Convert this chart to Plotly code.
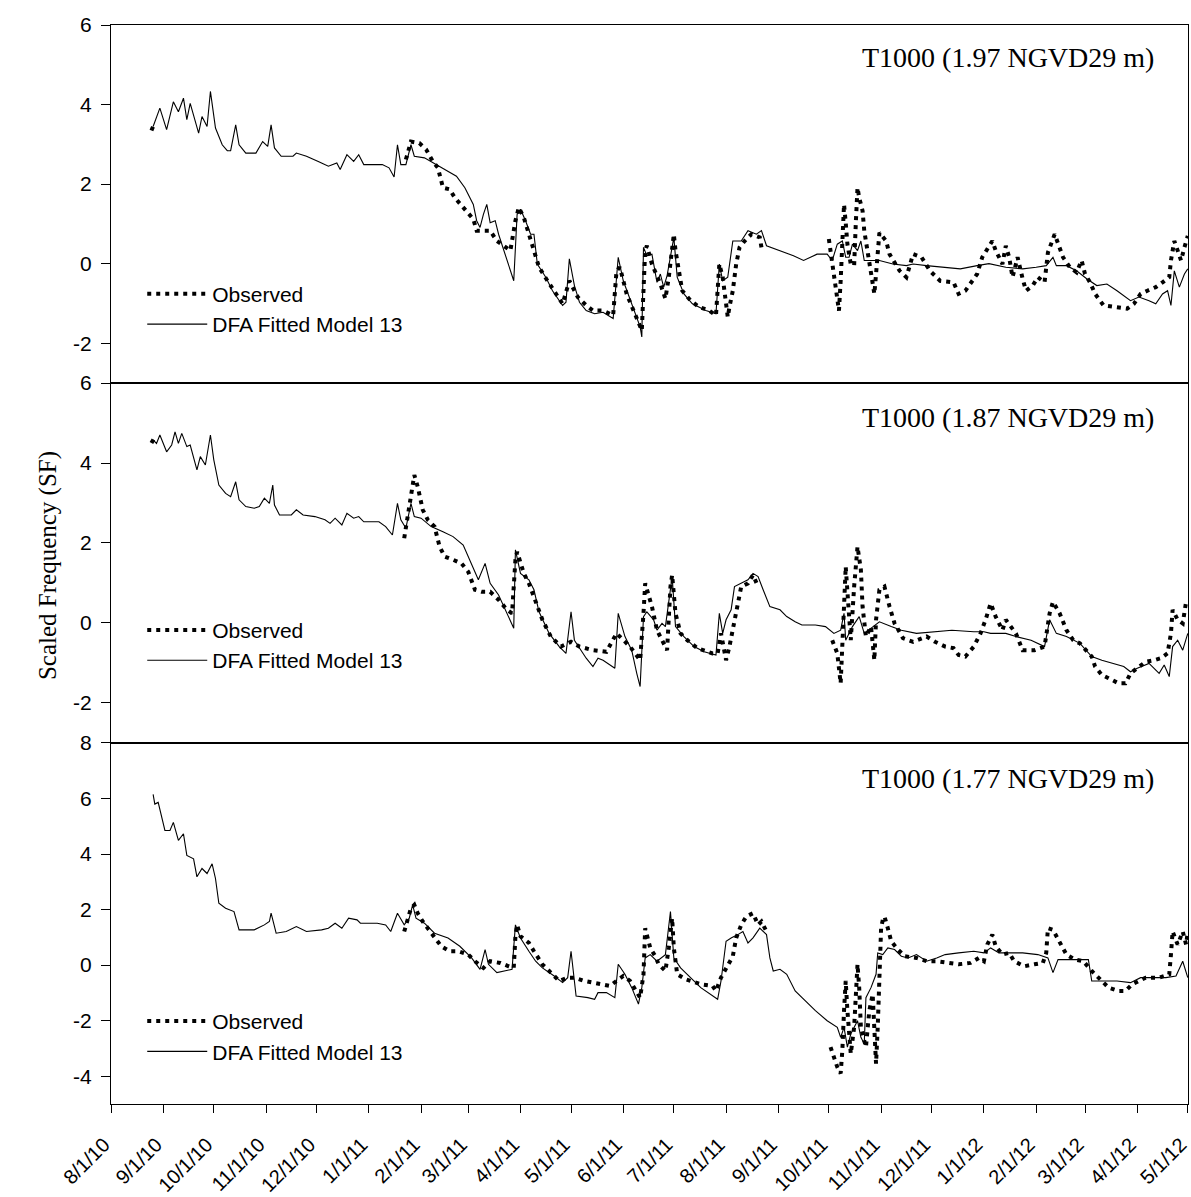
import pandas as pd
import plotly.graph_objects as go
from plotly.subplots import make_subplots

BASE_DATE = "2010-08-01"   # day 0 of the record

# ---------------- Panel 1: T1000 (1.97 NGVD29 m) ----------------
TOP_MODEL_DAYS = [25, 29, 33, 37, 40, 43, 45, 47, 52, 54,
                  57, 59, 62, 66, 69, 71, 74, 76, 80, 86,
                  90, 93, 95, 97, 101, 108, 110, 116, 123, 129,
                  134, 136, 140, 144, 147, 150, 161, 165, 168, 170,
                  172, 175, 178, 180, 186, 193, 200, 205, 210, 215,
                  217, 219, 221, 223, 225, 228, 230, 234, 239, 241,
                  243, 246, 249, 251, 253, 258, 262, 268, 270, 272,
                  275, 278, 282, 287, 292, 298, 301, 304, 309, 314,
                  315, 316, 318, 321, 324, 326, 328, 330, 334, 336,
                  340, 345, 353, 359, 361, 363, 366, 368, 369, 374,
                  378, 383, 386, 389, 397, 405, 411, 419, 425, 428,
                  431, 434, 436, 438, 440, 443, 445, 447, 456, 464,
                  472, 476, 484, 494, 504, 514, 521, 531, 541, 549,
                  555, 559, 561, 567, 573, 579, 585, 591, 597, 605,
                  610, 616, 620, 624, 627, 629, 631, 634, 637, 639]
TOP_MODEL_VALS = [3.45, 3.91, 3.37, 4.07, 3.82, 4.16, 3.62, 4.03, 3.28, 3.70,
                  3.45, 4.33, 3.41, 2.99, 2.84, 2.84, 3.49, 2.99, 2.78, 2.78,
                  3.07, 2.95, 3.49, 2.91, 2.70, 2.70, 2.78, 2.70, 2.57, 2.45,
                  2.53, 2.37, 2.74, 2.57, 2.74, 2.49, 2.49, 2.41, 2.18, 2.99,
                  2.49, 2.49, 2.99, 2.70, 2.66, 2.49, 2.33, 2.20, 1.91, 1.49,
                  1.08, 0.91, 1.24, 1.49, 1.03, 1.08, 0.74, 0.24, -0.43, 1.24,
                  1.37, 1.08, 0.74, 0.74, -0.01, -0.34, -0.68, -1.05, -0.97, 0.12,
                  -0.55, -0.97, -1.18, -1.26, -1.22, -1.38, 0.16, -0.43, -1.01, -1.59,
                  -1.84, 0.41, 0.20, 0.24, -0.47, -0.26, -0.59, -0.30, 0.66, -0.34,
                  -0.76, -1.01, -1.18, -1.26, -0.01, -0.43, -0.34, 0.33, 0.57, 0.57,
                  0.83, 0.74, 0.83, 0.45, 0.33, 0.20, 0.08, 0.24, 0.24, 0.08,
                  0.49, 0.57, 0.16, 0.16, 0.49, 0.33, 0.57, 0.08, 0.08, -0.01,
                  -0.05, -0.01, -0.05, -0.09, -0.13, -0.05, 0.00, -0.09, -0.13, -0.09,
                  -0.05, 0.16, -0.05, -0.05, -0.18, -0.38, -0.55, -0.51, -0.68, -0.93,
                  -0.84, -0.93, -1.01, -0.76, -0.68, -1.05, -0.18, -0.59, -0.26, -0.13]

TOP_OBS_DAYS = [24, 26, 27,
                175, 178, 183, 187, 191, 194, 197, 201, 204, 209,
                215, 217, 220, 225, 229, 234, 237, 240, 242, 245,
                250, 254, 259, 263, 268, 272, 277, 282, 286, 292,
                298, 300, 302, 306, 312, 315, 317, 318, 321, 326,
                329, 331, 334, 335, 339, 344, 349, 355, 359, 361,
                363, 366, 367, 369, 371, 373, 376, 380, 385, 386, 387,
                426, 428, 430, 432, 433, 434, 435, 436, 437, 439,
                441, 442, 443, 444, 446, 447, 448, 449, 451, 453,
                454, 455, 456, 460, 462, 468, 472, 476, 481, 486,
                492, 500, 503, 507, 511, 514, 517, 523, 525, 529,
                531, 533, 535, 538, 541, 543, 547, 550, 554, 556,
                560, 563, 565, 569, 573, 576, 578, 581, 584, 589,
                595, 603, 607, 611, 615, 620, 624, 628, 629, 630,
                631, 633, 635, 637, 639]
TOP_OBS_VALS = [3.35, 3.55, None,
                2.62, 3.07, 3.03, 2.87, 2.57, 2.41, 1.91, 1.87, 1.66, 1.41,
                1.12, 0.83, 0.83, 0.83, 0.57, 0.41, 0.33, 1.08, 1.41, 1.16,
                0.49, -0.09, -0.43, -0.68, -1.01, -0.43, -0.84, -1.05, -1.18, -1.18,
                -1.30, -0.18, -0.09, -0.76, -1.34, -1.68, 0.33, 0.45, -0.01, -0.51,
                -0.88, -0.34, 0.74, 0.33, -0.68, -0.93, -1.09, -1.18, -1.30, -0.01,
                -0.34, -1.34, -1.09, -0.68, -0.01, 0.41, 0.57, 0.74, 0.66, 0.41, None,
                0.62, 0.00, -0.68, -1.18, -0.43, 0.74, 1.49, 1.03, 0.49, -0.01,
                -0.05, 1.03, 1.91, 1.66, 1.33, 0.83, 0.57, 0.24, -0.30, -0.76,
                -0.26, 0.33, 0.78, 0.57, 0.24, -0.18, -0.34, 0.24, 0.16, -0.18,
                -0.43, -0.47, -0.76, -0.68, -0.43, -0.26, 0.16, 0.57, 0.33, -0.01,
                0.45, 0.16, -0.34, 0.16, -0.38, -0.68, -0.55, -0.34, -0.47, 0.28,
                0.74, 0.41, 0.16, -0.09, -0.22, 0.08, -0.26, -0.47, -0.76, -1.05,
                -1.09, -1.13, -1.01, -0.76, -0.68, -0.59, -0.47, -0.34, 0.08, 0.33,
                0.57, 0.33, 0.08, 0.41, 0.70]

# ---------------- Panel 2: T1000 (1.87 NGVD29 m) ----------------
MID_MODEL_DAYS = [25, 27, 29, 33, 36, 38, 40, 42, 45, 47,
                  51, 53, 56, 59, 61, 64, 68, 71, 74, 76,
                  80, 85, 88, 91, 94, 96, 97, 100, 107, 110,
                  114, 121, 127, 130, 133, 137, 140, 144, 147, 150,
                  159, 163, 167, 170, 172, 175, 178, 180, 184, 190,
                  197, 203, 209, 214, 218, 222, 225, 230, 235, 239,
                  240, 243, 248, 251, 254, 260, 266, 270, 273, 275,
                  282, 286, 289, 292, 299, 301, 305, 309, 312, 314,
                  316, 318, 322, 324, 327, 329, 333, 335, 340, 346,
                  352, 359, 361, 363, 365, 368, 370, 374, 378, 381,
                  384, 387, 391, 397, 401, 406, 410, 418, 424, 429,
                  433, 435, 436, 440, 444, 447, 452, 456, 463, 469,
                  478, 490, 499, 512, 518, 522, 531, 537, 546, 554,
                  557, 561, 567, 575, 582, 588, 594, 601, 605, 609,
                  616, 622, 625, 628, 630, 633, 636, 639]
MID_MODEL_VALS = [4.58, 4.49, 4.70, 4.28, 4.45, 4.78, 4.49, 4.74, 4.41, 4.45,
                  3.83, 4.16, 3.95, 4.70, 4.08, 3.45, 3.24, 3.16, 3.53, 3.08,
                  2.91, 2.87, 2.91, 3.12, 2.99, 3.45, 2.95, 2.70, 2.70, 2.83,
                  2.70, 2.66, 2.58, 2.49, 2.62, 2.45, 2.74, 2.62, 2.66, 2.53,
                  2.53, 2.41, 2.20, 2.99, 2.58, 2.37, 2.99, 2.66, 2.62, 2.41,
                  2.28, 2.16, 1.95, 1.49, 1.08, 1.49, 0.99, 0.70, 0.24, -0.13,
                  1.83, 1.24, 1.08, 0.83, 0.28, -0.26, -0.59, -0.76, 0.28, -0.43,
                  -0.88, -1.09, -0.88, -0.93, -1.13, 0.24, -0.34, -0.68, -1.26, -1.59,
                  0.16, 0.28, 0.08, -0.18, -0.01, -0.09, 1.16, -0.09, -0.34, -0.59,
                  -0.72, -0.80, 0.24, -0.26, 0.08, 0.33, 0.91, 0.99, 1.08, 1.24,
                  1.16, 0.83, 0.41, 0.33, 0.16, 0.03, -0.05, -0.05, -0.09, -0.26,
                  -0.18, 0.24, -0.43, -0.09, 0.16, -0.26, -0.09, 0.03, -0.09, -0.18,
                  -0.26, -0.22, -0.18, -0.22, -0.22, -0.26, -0.26, -0.34, -0.43, -0.59,
                  0.08, -0.26, -0.34, -0.51, -0.84, -0.93, -1.01, -1.09, -1.22, -1.13,
                  -1.01, -1.26, -1.05, -1.34, -0.59, -0.43, -0.68, -0.26]

MID_OBS_DAYS = [24, 26, 27,
                174, 175, 178, 180, 182, 185, 188, 192, 195, 198,
                203, 208, 212, 216, 220, 225, 230, 235, 238, 240,
                241, 245, 248, 252, 256, 261, 267, 273, 278, 286,
                294, 300, 304, 308, 311, 314, 316, 317, 321, 324,
                327, 330, 332, 333, 335, 338, 342, 348, 357, 360,
                362, 365, 367, 369, 372, 374, 378, 381, 384, 385,
                428, 431, 433, 434, 435, 436, 437, 439, 441, 443,
                445, 446, 448, 451, 453, 454, 456, 459, 462, 465,
                470, 476, 484, 489, 495, 500, 503, 507, 512, 516,
                519, 522, 525, 529, 531, 534, 537, 541, 548, 554,
                557, 559, 563, 567, 571, 575, 582, 584, 588, 592,
                598, 602, 605, 609, 614, 619, 623, 627, 629, 630,
                633, 636, 638, 639]
MID_OBS_VALS = [4.50, 4.65, None,
                2.12, 2.41, 3.24, 3.70, 3.41, 2.83, 2.58, 2.41, 1.91, 1.66,
                1.58, 1.49, 1.28, 0.83, 0.78, 0.78, 0.58, 0.33, 0.24, 1.58,
                1.78, 1.24, 0.99, 0.53, 0.08, -0.34, -0.59, -0.47, -0.59, -0.68,
                -0.72, -0.26, -0.43, -0.59, -0.76, -0.93, 0.24, 0.99, 0.41, -0.18,
                -0.43, -0.68, 0.91, 1.20, 0.24, -0.26, -0.43, -0.63, -0.76, -0.76,
                -0.26, -0.93, -0.59, -0.18, 0.41, 0.91, 0.99, 1.20, 0.91, None,
                -0.43, -0.76, -1.51, -0.76, 0.41, 1.41, 0.74, -0.43, 0.91, 1.91,
                1.33, 0.41, -0.34, -0.09, -0.93, 0.08, 0.83, 0.91, 0.41, -0.01,
                -0.38, -0.47, -0.34, -0.47, -0.59, -0.63, -0.80, -0.84, -0.59, -0.26,
                0.08, 0.49, 0.16, -0.18, 0.08, -0.09, -0.26, -0.68, -0.68, -0.59,
                0.24, 0.53, 0.24, -0.18, -0.43, -0.51, -0.84, -1.09, -1.30, -1.38,
                -1.51, -1.51, -1.26, -1.13, -0.97, -0.93, -0.88, -0.76, -0.26, 0.33,
                0.08, -0.01, 0.53, 0.58]

# ---------------- Panel 3: T1000 (1.77 NGVD29 m) ----------------
BOT_MODEL_DAYS = [25, 26, 28, 32, 35, 37, 40, 43, 45, 49,
                  51, 54, 57, 60, 62, 64, 68, 73, 76, 85,
                  91, 94, 95, 98, 104, 110, 116, 125, 129, 133,
                  137, 141, 146, 148, 158, 163, 166, 170, 174, 177,
                  179, 181, 186, 192, 200, 207, 214, 219, 222, 224,
                  229, 233, 238, 240, 243, 248, 252, 256, 263, 268,
                  271, 273, 275, 276, 283, 287, 289, 294, 299, 301,
                  305, 309, 313, 315, 317, 320, 324, 329, 332, 334,
                  338, 344, 350, 360, 362, 365, 368, 372, 375, 378,
                  381, 385, 389, 391, 393, 397, 401, 406, 412, 418,
                  425, 431, 433, 435, 437, 439, 443, 445, 447, 448,
                  451, 454, 455, 458, 461, 465, 469, 473, 478, 484,
                  490, 495, 503, 512, 518, 522, 527, 533, 541, 550,
                  556, 559, 562, 569, 580, 582, 588, 597, 605, 611,
                  620, 626, 632, 636, 639]
BOT_MODEL_VALS = [6.15, 5.80, 5.86, 4.85, 4.85, 5.14, 4.49, 4.73, 3.95, 3.83,
                  3.18, 3.48, 3.30, 3.65, 3.12, 2.23, 2.05, 1.93, 1.27, 1.27,
                  1.45, 1.57, 1.87, 1.15, 1.21, 1.39, 1.21, 1.27, 1.33, 1.51,
                  1.33, 1.69, 1.63, 1.51, 1.51, 1.45, 1.21, 1.87, 1.45, 1.69,
                  2.17, 1.69, 1.51, 1.15, 0.98, 0.68, 0.26, -0.15, 0.56, 0.03,
                  -0.27, -0.21, -0.15, 1.45, 0.98, 0.50, 0.14, -0.10, -0.39, -0.63,
                  -0.45, 0.50, -0.45, -1.11, -1.17, -1.23, -0.99, -0.99, -1.17, 0.03,
                  -0.33, -0.81, -1.40, -0.81, 0.26, 0.38, 0.14, 0.38, 1.93, 0.26,
                  -0.10, -0.45, -0.81, -1.23, -0.57, 0.86, 0.98, 1.10, 1.21, 0.80,
                  0.98, 1.33, 1.10, 0.26, -0.21, -0.15, -0.33, -0.93, -1.29, -1.64,
                  -2.00, -2.24, -2.60, -2.24, -2.95, -2.48, -2.00, -2.60, -2.83, -1.17,
                  -0.81, -0.33, 0.44, 0.38, 0.62, 0.56, 0.32, 0.26, 0.38, 0.14,
                  0.26, 0.38, 0.44, 0.50, 0.44, 0.62, 0.44, 0.44, 0.44, 0.38,
                  0.26, -0.27, 0.20, 0.20, 0.20, -0.57, -0.57, -0.57, -0.63, -0.45,
                  -0.45, -0.45, -0.39, 0.14, -0.45]

BOT_OBS_DAYS = [174, 175, 178, 180, 182, 185, 189, 193, 196, 201,
                206, 212, 216, 221, 225, 231, 236, 239, 240, 241,
                243, 248, 251, 256, 261, 266, 271, 275, 281, 286,
                291, 296, 300, 304, 308, 312, 314, 316, 317, 320,
                323, 325, 329, 331, 333, 334, 336, 341, 346, 350,
                357, 359, 362, 365, 369, 371, 374, 377, 381, 384,
                386, 389, 390,
                427, 429, 431, 433, 434, 435, 436, 437, 438, 439,
                441, 442, 443, 444, 445, 448, 450, 452, 453, 454,
                455, 456, 457, 458, 459, 461, 463, 467, 471, 478,
                484, 490, 497, 503, 510, 515, 518, 520, 523, 525,
                529, 533, 536, 542, 548, 553, 555, 556, 559, 563,
                567, 572, 577, 582, 586, 592, 598, 602, 606, 614,
                622, 628, 629, 630, 633, 636, 638, 639]
BOT_OBS_VALS = [1.21, 1.45, 2.05, 2.17, 1.87, 1.57, 1.27, 0.92, 0.68, 0.50,
                0.50, 0.38, 0.14, -0.10, 0.14, 0.08, -0.04, -0.10, 1.04, 1.45,
                1.04, 0.80, 0.50, 0.03, -0.27, -0.57, -0.45, -0.45, -0.57, -0.63,
                -0.69, -0.75, -0.57, -0.39, -0.57, -0.93, -1.17, -0.33, 1.33, 0.62,
                0.32, 0.03, -0.21, 0.62, 1.69, 0.62, -0.33, -0.51, -0.63, -0.69,
                -0.75, -0.93, -0.45, -0.10, 0.32, 0.98, 1.45, 1.75, 1.87, 1.45,
                1.57, 1.21, None,
                -2.95, -3.31, -3.67, -3.90, -3.07, -1.64, -0.57, -1.64, -2.71, -3.19,
                -2.24, -0.93, 0.03, -0.81, -2.24, -2.95, -1.64, -1.05, -2.48, -3.55,
                -2.24, -0.10, 1.33, 1.63, 1.75, 1.33, 0.86, 0.56, 0.32, 0.26,
                0.14, 0.14, 0.08, 0.03, 0.08, 0.26, 0.14, 0.74, 1.10, 0.68,
                0.38, 0.44, 0.14, -0.04, 0.03, 0.08, 0.44, 1.33, 1.27, 0.86,
                0.38, 0.20, 0.14, -0.21, -0.45, -0.81, -0.93, -0.93, -0.69, -0.45,
                -0.45, -0.33, 0.38, 1.21, 0.74, 1.21, 0.74, 1.21]

PANEL_TITLES = ["T1000 (1.97 NGVD29 m)", "T1000 (1.87 NGVD29 m)", "T1000 (1.77 NGVD29 m)"]
Y_RANGES = [[-3, 6], [-3, 6], [-5, 8]]
Y_TICKS = [[-2, 0, 2, 4, 6], [-2, 0, 2, 4, 6], [-4, -2, 0, 2, 4, 6, 8]]
Y_TICK_LABELS = [["-2", "0", "2", "4", "6"], ["-2", "0", "2", "4", "6"],
                 ["-4", "-2", "0", "2", "4", "6", "8"]]

MONTH_TICKS = ["2010-08-01", "2010-09-01", "2010-10-01", "2010-11-01", "2010-12-01",
               "2011-01-01", "2011-02-01", "2011-03-01", "2011-04-01", "2011-05-01",
               "2011-06-01", "2011-07-01", "2011-08-01", "2011-09-01", "2011-10-01",
               "2011-11-01", "2011-12-01", "2012-01-01", "2012-02-01", "2012-03-01",
               "2012-04-01", "2012-05-01"]
MONTH_LABELS = ["8/1/10", "9/1/10", "10/1/10", "11/1/10", "12/1/10",
                "1/1/11", "2/1/11", "3/1/11", "4/1/11", "5/1/11",
                "6/1/11", "7/1/11", "8/1/11", "9/1/11", "10/1/11",
                "11/1/11", "12/1/11", "1/1/12", "2/1/12", "3/1/12",
                "4/1/12", "5/1/12"]
X_RANGE = ["2010-08-01", "2012-05-01 03:00"]

SERIES = [
    (TOP_MODEL_DAYS, TOP_MODEL_VALS, TOP_OBS_DAYS, TOP_OBS_VALS),
    (MID_MODEL_DAYS, MID_MODEL_VALS, MID_OBS_DAYS, MID_OBS_VALS),
    (BOT_MODEL_DAYS, BOT_MODEL_VALS, BOT_OBS_DAYS, BOT_OBS_VALS),
]

for md, mv, od, ov in SERIES:
    assert len(md) == len(mv), (len(md), len(mv))
    assert len(od) == len(ov), (len(od), len(ov))

base = pd.Timestamp(BASE_DATE)


def to_dates(days):
    return [base + pd.Timedelta(days=d) for d in days]


SANS = "Liberation Sans, Arial, sans-serif"
SERIF = "Liberation Serif, Times New Roman, serif"

fig = make_subplots(rows=3, cols=1, shared_xaxes=True, vertical_spacing=0)

legend_names = ["legend", "legend2", "legend3"]
for i, (md, mv, od, ov) in enumerate(SERIES):
    row = i + 1
    fig.add_trace(go.Scatter(
        x=to_dates(md), y=mv, mode="lines", name="DFA Fitted Model 13",
        line=dict(color="black", width=1.1), legend=legend_names[i], legendrank=2,
        connectgaps=False), row=row, col=1)
    fig.add_trace(go.Scatter(
        x=to_dates(od), y=ov, mode="lines", name="Observed",
        line=dict(color="black", width=4, dash="4px,5px"), legend=legend_names[i],
        legendrank=1, connectgaps=False), row=row, col=1)

domains = [[0.6682, 1.0], [0.3346, 0.6682], [0.0, 0.3346]]
for i in range(3):
    yname = "yaxis" if i == 0 else f"yaxis{i + 1}"
    fig.layout[yname].update(
        domain=domains[i], range=Y_RANGES[i], tickvals=Y_TICKS[i],
        ticktext=Y_TICK_LABELS[i], automargin=False,
        showgrid=False, zeroline=False, showline=True, linecolor="black",
        linewidth=1.2, mirror=True, ticks="outside", ticklen=9, tickwidth=1.2,
        tickcolor="black", tickfont=dict(family=SANS, size=21, color="black"),
        ticklabelstandoff=5)
    xname = "xaxis" if i == 0 else f"xaxis{i + 1}"
    fig.layout[xname].update(
        type="date", range=X_RANGE, automargin=False,
        showgrid=False, zeroline=False, showline=True, linecolor="black",
        linewidth=1.2, mirror=True)

fig.layout["xaxis3"].update(
    tickvals=MONTH_TICKS, ticktext=MONTH_LABELS, ticks="outside", ticklen=8,
    tickwidth=1.2, tickcolor="black", tickangle=-45, ticklabeloverflow="allow",
    tickfont=dict(family=SANS, size=20, color="black"),
    ticklabelstandoff=12, ticklabelshift=-7)
fig.layout["xaxis"].update(showticklabels=False, ticks="")
fig.layout["xaxis2"].update(showticklabels=False, ticks="")

legend_y = [0.7695, 0.458, 0.0955]
for i, ln in enumerate(legend_names):
    fig.layout[ln] = dict(
        x=0.029, y=legend_y[i], xanchor="left", yanchor="top",
        bgcolor="rgba(0,0,0,0)", font=dict(family=SANS, size=21, color="black"),
        itemwidth=60, tracegroupgap=0)

title_y = [0.9703, 0.6367, 0.3021]
for i, t in enumerate(PANEL_TITLES):
    fig.add_annotation(text=t, xref="paper", yref="paper", x=0.970, y=title_y[i],
                       xanchor="right", yanchor="middle", showarrow=False,
                       font=dict(family=SERIF, size=28, color="black"))

fig.add_annotation(text="Scaled Frequency (SF)", xref="paper", yref="paper",
                   x=-0.0585, y=0.4995, xanchor="center", yanchor="middle",
                   textangle=-90, showarrow=False,
                   font=dict(family=SERIF, size=25, color="black"))

fig.update_layout(
    width=1191, height=1197,
    margin=dict(l=111, r=3, t=25, b=93, autoexpand=False),
    paper_bgcolor="white", plot_bgcolor="white",
    showlegend=True,
)

fig.write_html("out.html")
